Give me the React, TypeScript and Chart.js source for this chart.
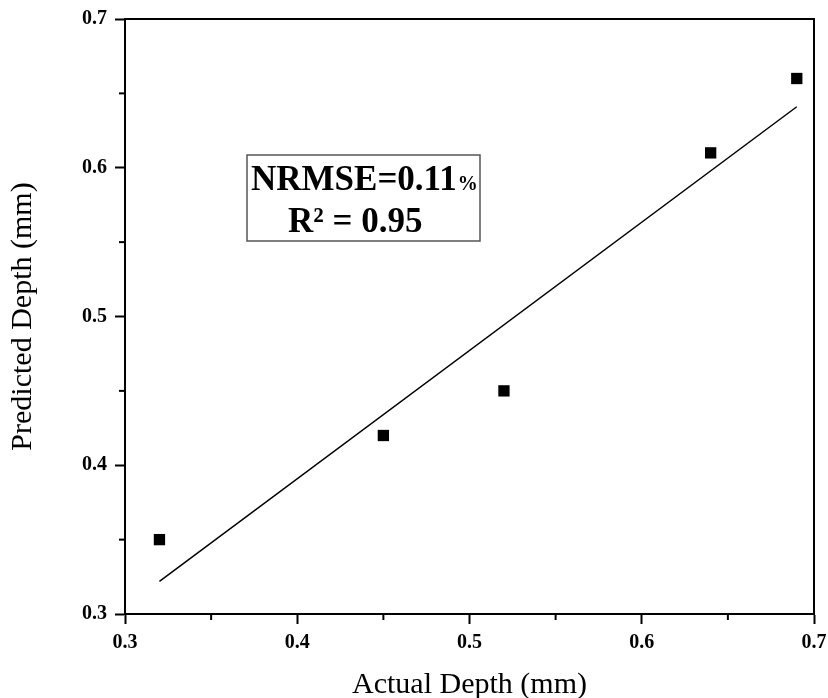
import React, { useEffect, useRef } from "react";
import { Chart, registerables } from "chart.js";

Chart.register(...registerables);

const actualDepth = [0.32, 0.45, 0.52, 0.64, 0.69];
const predictedDepth = [0.35, 0.42, 0.45, 0.61, 0.66];
const fitX = [0.32, 0.69];
const fitY = [0.322, 0.641];
const axisMin = 0.3;
const axisMax = 0.7;
const tickStep = 0.05;
const xTitle = "Actual Depth (mm)";
const yTitle = "Predicted Depth (mm)";
const noteLine1 = "NRMSE=0.11";
const noteLine1Suffix = "%";
const noteLine2 = "R\u00B2 = 0.95";

const SERIF = '"Liberation Serif", "Times New Roman", serif';

const isMajor = (v: number) => Math.abs(Math.round(v * 10) - v * 10) < 1e-6;

const framePlugin = {
  id: "frame",
  afterDraw(chart: any) {
    const { ctx, chartArea } = chart;
    const { left, right, top, bottom } = chartArea;
    ctx.save();
    ctx.strokeStyle = "#000";
    ctx.lineWidth = 2;
    ctx.strokeRect(left, top, right - left, bottom - top);
    const xs = chart.scales.x;
    const ys = chart.scales.y;
    for (const t of xs.ticks) {
      if (!isMajor(t.value)) {
        const px = xs.getPixelForValue(t.value);
        ctx.beginPath();
        ctx.moveTo(px, bottom);
        ctx.lineTo(px, bottom + 6);
        ctx.stroke();
      }
    }
    for (const t of ys.ticks) {
      if (!isMajor(t.value)) {
        const py = ys.getPixelForValue(t.value);
        ctx.beginPath();
        ctx.moveTo(left, py);
        ctx.lineTo(left - 6, py);
        ctx.stroke();
      }
    }
    // annotation box
    const bx = 247, by = 155, bw = 233, bh = 86;
    ctx.fillStyle = "#fff";
    ctx.fillRect(bx, by, bw, bh);
    ctx.strokeStyle = "#555";
    ctx.lineWidth = 1.5;
    ctx.strokeRect(bx, by, bw, bh);
    ctx.fillStyle = "#000";
    ctx.textBaseline = "alphabetic";
    ctx.textAlign = "left";
    ctx.font = `bold 35px ${SERIF}`;
    ctx.fillText(noteLine1, 251, 190);
    const w1 = ctx.measureText(noteLine1).width;
    ctx.font = `bold 20px ${SERIF}`;
    ctx.fillText(noteLine1Suffix, 251 + w1 + 1, 190);
    ctx.font = `bold 35px ${SERIF}`;
    ctx.fillText(noteLine2, 288, 232);
    ctx.restore();
  },
};

export default function App() {
  const ref = useRef<HTMLCanvasElement | null>(null);
  useEffect(() => {
    if (!ref.current) return;
    const tickFont = { family: SERIF, size: 20, weight: "bold" as const };
    const xTitleFont = { family: SERIF, size: 30, weight: "normal" as const, lineHeight: 0.8 };
    const yTitleFont = { family: SERIF, size: 30, weight: "normal" as const, lineHeight: 1 };
    const chart = new Chart(ref.current, {
      type: "scatter",
      data: {
        datasets: [
          {
            label: "data",
            data: actualDepth.map((x, i) => ({ x, y: predictedDepth[i] })),
            pointStyle: "rect",
            pointRadius: 8,
            pointHoverRadius: 8,
            backgroundColor: "#000",
            borderWidth: 0,
          },
          {
            label: "fit",
            data: fitX.map((x, i) => ({ x, y: fitY[i] })),
            showLine: true,
            pointRadius: 0,
            borderColor: "#000",
            borderWidth: 1.5,
            backgroundColor: "#000",
          },
        ],
      },
      options: {
        responsive: false,
        animation: false,
        devicePixelRatio: 1,
        layout: { padding: { top: 19, right: 14, left: 0, bottom: 0 } },
        plugins: { legend: { display: false }, tooltip: { enabled: false } },
        scales: {
          x: {
            type: "linear",
            min: axisMin,
            max: axisMax,
            afterFit: (s: any) => {
              s.height = 84;
              s.paddingLeft = 0;
              s.paddingRight = 0;
            },
            ticks: {
              stepSize: tickStep,
              color: "#000",
              font: tickFont,
              padding: 7,
              maxRotation: 0,
              autoSkip: false,
              callback: (v: any) => (isMajor(Number(v)) ? Number(v).toFixed(1) : ""),
            },
            grid: {
              drawOnChartArea: false,
              drawTicks: true,
              tickLength: 10,
              tickWidth: 2,
              tickColor: (c: any) => (c.tick && isMajor(c.tick.value) ? "#000" : "rgba(0,0,0,0)"),
            },
            border: { display: true, color: "#000", width: 2 },
            title: { display: true, text: xTitle, color: "#000", font: xTitleFont, padding: { top: 0, bottom: 1 } },
          },
          y: {
            type: "linear",
            min: axisMin,
            max: axisMax,
            afterFit: (s: any) => {
              s.width = 125;
              s.paddingTop = 0;
              s.paddingBottom = 0;
            },
            ticks: {
              stepSize: tickStep,
              color: "#000",
              font: tickFont,
              padding: 8,
              autoSkip: false,
              callback: (v: any) => (isMajor(Number(v)) ? Number(v).toFixed(1) : ""),
            },
            grid: {
              drawOnChartArea: false,
              drawTicks: true,
              tickLength: 10,
              tickWidth: 2,
              tickColor: (c: any) => (c.tick && isMajor(c.tick.value) ? "#000" : "rgba(0,0,0,0)"),
            },
            border: { display: true, color: "#000", width: 2 },
            title: { display: true, text: yTitle, color: "#000", font: yTitleFont, padding: { top: 8, bottom: 0 } },
          },
        },
      },
      plugins: [framePlugin],
    });
    return () => chart.destroy();
  }, []);
  return (
    <div style={{ position: "absolute", left: 0, top: 0, width: 828, height: 698, background: "#fff" }}>
      <canvas ref={ref} width={828} height={698} style={{ display: "block" }} />
    </div>
  );
}
